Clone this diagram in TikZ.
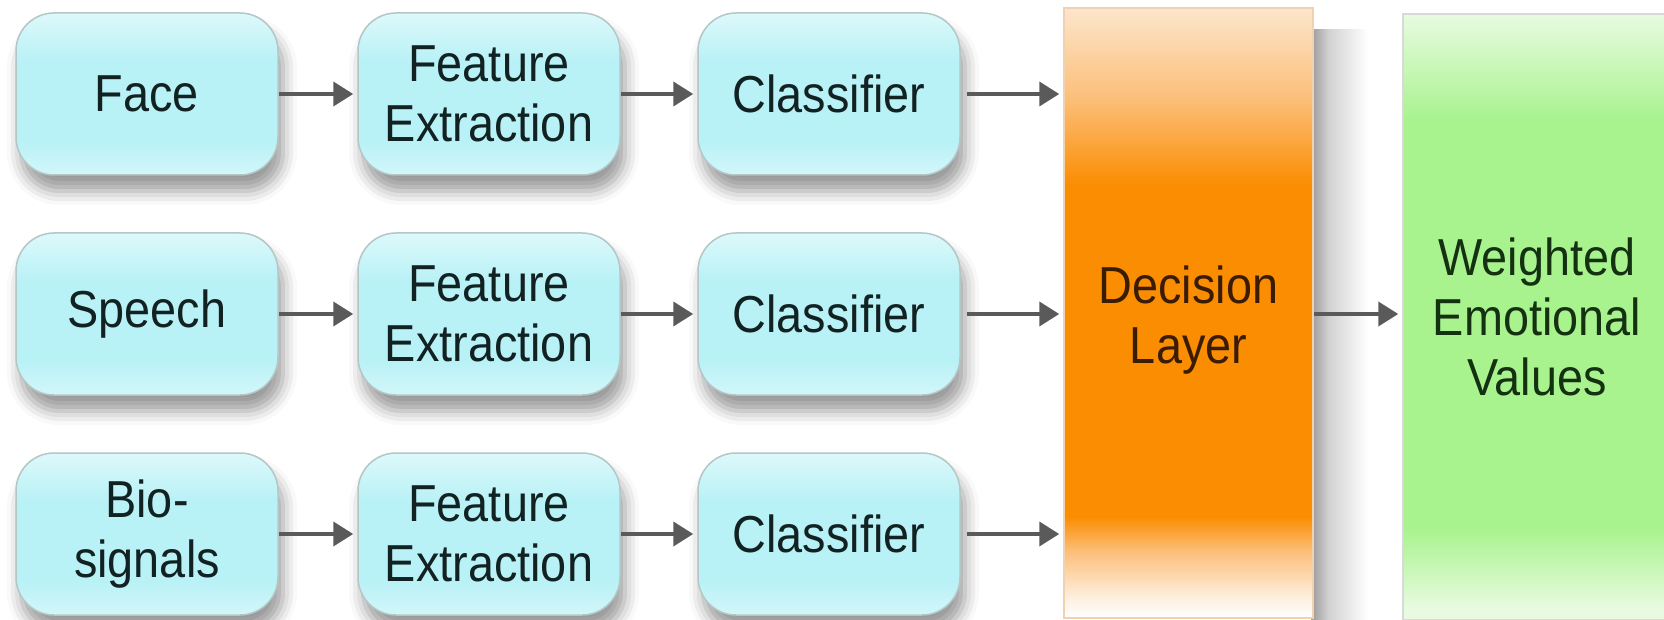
\documentclass[tikz,border=0pt]{standalone}
\usepackage{fontspec}
\setmainfont{Liberation Sans}
\newfontfamily\diagfont[FakeStretch=0.9]{Liberation Sans}
\usetikzlibrary{arrows.meta,shadows.blur}
\definecolor{cyanT}{HTML}{DDF9FB}
\definecolor{cyanM}{HTML}{B8F1F6}
\definecolor{cyanB}{HTML}{D2F7F9}
\definecolor{boxline}{HTML}{B4C6C6}
\definecolor{orP}{HTML}{FCE6CC}
\definecolor{orL}{HTML}{FCBE78}
\definecolor{orM}{HTML}{FB8D02}
\definecolor{grP}{HTML}{E8FBE0}
\definecolor{grM}{HTML}{A9F38F}
\definecolor{arrowc}{HTML}{5A5A5A}
\definecolor{txt}{HTML}{122222}
\definecolor{dectxt}{HTML}{3A1C02}
\definecolor{wevtxt}{HTML}{143212}
\pgfdeclareverticalshading{cyanshade}{100bp}{color(0bp)=(cyanB); color(25bp)=(cyanB); color(36bp)=(cyanM); color(60bp)=(cyanM); color(75bp)=(cyanT); color(100bp)=(cyanT)}
\pgfdeclareverticalshading{orangeshade}{100bp}{color(0bp)=(white); color(25bp)=(white); color(26.6bp)=(orP!60!white); color(30.5bp)=(orL); color(33.3bp)=(orM); color(60.5bp)=(orM); color(67.5bp)=(orL); color(75bp)=(orP); color(100bp)=(orP)}
\pgfdeclareverticalshading{greenshade}{100bp}{color(0bp)=(grP); color(25bp)=(grP); color(25.9bp)=(grP); color(32.5bp)=(grM); color(66.3bp)=(grM); color(75bp)=(grP); color(100bp)=(grP)}
\pgfdeclarehorizontalshading{sideshadow}{100bp}{color(0bp)=(black!40); color(25bp)=(black!40); color(40bp)=(black!18); color(75bp)=(white); color(100bp)=(white)}
\tikzset{
  diagtext/.style={font=\diagfont\fontsize{52}{60}\selectfont},
  stagebox/.style={diagtext, draw=boxline, line width=1.5pt, rounded corners=38pt,
    shading=cyanshade, minimum width=262pt, minimum height=162pt,
    align=center, text=txt, inner sep=0pt,
    blur shadow={shadow xshift=5pt, shadow yshift=-16pt, shadow blur radius=14pt, shadow opacity=40}},
  decbox/.style={draw=orP!80!brown, line width=1.5pt, shading=orangeshade,
    minimum width=249pt, minimum height=610pt, inner sep=0pt},
  declabel/.style={diagtext, align=center, text=dectxt, inner sep=0pt},
  outbox/.style={diagtext, draw=black!15, line width=1.5pt, shading=greenshade,
    minimum width=268pt, minimum height=606pt, align=center, inner sep=0pt,
    text=wevtxt},
  arr/.style={draw=arrowc, line width=4pt, -{Triangle[length=20pt,width=24pt]}, shorten >=4pt}
}
\begin{document}
\begin{tikzpicture}[x=1pt,y=-1pt]
\useasboundingbox (0,0) rectangle (1664,620);
\shade[shading=sideshadow] (1311,30) rectangle (1368,620);
\node[stagebox] (face) at (147,94) {Face};
\node[stagebox] (fe1) at (489,94) {Feature\\Extraction};
\node[stagebox] (cl1) at (829,94) {Classifier};
\node[stagebox] (speech) at (147,314) {Speech};
\node[stagebox] (fe2) at (489,314) {Feature\\Extraction};
\node[stagebox] (cl2) at (829,314) {Classifier};
\node[stagebox] (bio) at (147,534) {Bio-\\signals};
\node[stagebox] (fe3) at (489,534) {Feature\\Extraction};
\node[stagebox] (cl3) at (829,534) {Classifier};
\node[decbox] (dec) at (1188.5,313) {};
\node[declabel] (dectext) at (1188.5,320) {Decision\\Layer};
\node[outbox] (wev) at (1537,317) {Weighted\\Emotional\\Values};
\draw[arr] (face) -- (fe1);
\draw[arr] (fe1) -- (cl1);
\draw[arr] (speech) -- (fe2);
\draw[arr] (fe2) -- (cl2);
\draw[arr] (bio) -- (fe3);
\draw[arr] (fe3) -- (cl3);
\draw[arr, shorten <=6pt] (cl1) -- (cl1 -| dec.west);
\draw[arr, shorten <=6pt] (cl2) -- (cl2 -| dec.west);
\draw[arr, shorten <=6pt] (cl3) -- (cl3 -| dec.west);
\draw[arr] (dec.east |- cl2) -- (wev.west |- cl2);
\end{tikzpicture}
\end{document}
